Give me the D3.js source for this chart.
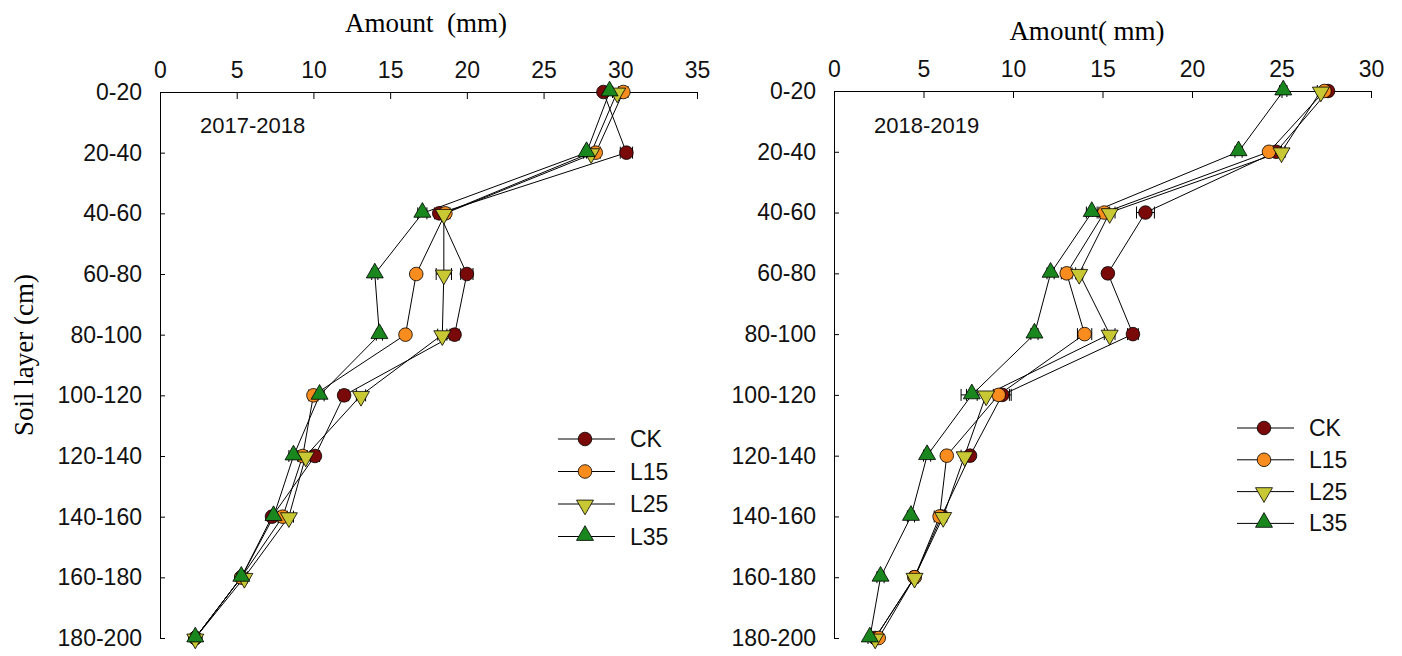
<!DOCTYPE html>
<html>
<head>
<meta charset="utf-8">
<script src="https://cdn.jsdelivr.net/npm/d3@7"></script>
<style>
  body { margin: 0; background: #fff; }
  text { font-family: Arial, "Liberation Sans", sans-serif; }
  .serif { font-family: "Times New Roman", "Liberation Serif", serif; }
</style>
</head>
<body>
<svg id="chart" width="1402" height="656"></svg>
<script>
// soil layers (y categories)
const layers = ["0-20", "20-40", "40-60", "60-80", "80-100", "100-120", "120-140", "140-160", "160-180", "180-200"];
const seriesNames = ["CK", "L15", "L25", "L35"];

// 2017-2018 amounts (mm)
const ck1  = [28.9, 30.4, 18.2, 20.0, 19.2, 12.0, 10.1, 7.3, 5.3, 2.3];
const l15a = [30.2, 28.4, 18.6, 16.7, 16.0, 10.0, 9.3, 8.0, 5.3, 2.3];
const l25a = [29.8, 28.1, 18.5, 18.5, 18.4, 13.1, 9.5, 8.4, 5.5, 2.3];
const l35a = [29.3, 27.8, 17.1, 14.0, 14.3, 10.4, 8.7, 7.4, 5.3, 2.3];
const ck1Err  = [0.2, 0.4, 0.3, 0.4, 0.3, 0.3, 0.3, 0.2, 0.2, 0.1];
const l15aErr = [0.3, 0.3, 0.3, 0.2, 0.2, 0.3, 0.3, 0.3, 0.2, 0.1];
const l25aErr = [0.3, 0.3, 0.3, 0.5, 0.3, 0.3, 0.3, 0.3, 0.2, 0.1];
const l35aErr = [0.2, 0.2, 0.3, 0.2, 0.2, 0.3, 0.3, 0.3, 0.2, 0.1];

// 2018-2019 amounts (mm)
const ck2  = [27.6, 24.7, 17.4, 15.3, 16.7, 9.4, 7.6, 6.0, 4.5, 2.3];
const l15b = [27.4, 24.3, 15.1, 13.0, 14.0, 9.2, 6.3, 5.9, 4.5, 2.5];
const l25b = [27.2, 25.0, 15.4, 13.7, 15.4, 8.5, 7.3, 6.1, 4.5, 2.3];
const l35b = [25.1, 22.6, 14.4, 12.1, 11.2, 7.7, 5.2, 4.3, 2.6, 2.0];
const ck2Err  = [0.2, 0.3, 0.5, 0.2, 0.3, 0.4, 0.2, 0.2, 0.2, 0.1];
const l15bErr = [0.2, 0.2, 0.3, 0.3, 0.4, 0.3, 0.2, 0.3, 0.2, 0.1];
const l25bErr = [0.2, 0.2, 0.3, 0.2, 0.3, 1.4, 0.2, 0.2, 0.2, 0.1];
const l35bErr = [0.2, 0.2, 0.3, 0.2, 0.2, 0.3, 0.2, 0.2, 0.2, 0.1];

const xTicksLeft = [0, 5, 10, 15, 20, 25, 30, 35];
const xTicksRight = [0, 5, 10, 15, 20, 25, 30];

const colors = { CK: "#7a0a0a", L15: "#f98c1e", L25: "#c8c834", L35: "#19861e" };
const shapes = { CK: "circle", L15: "circle", L25: "down", L35: "up" };

const svg = d3.select("#chart");

function marker(g, name, cx, cy) {
  const tri = d3.symbol().type(d3.symbolTriangle).size(125)();
  if (shapes[name] === "down") {
    g.append("path").attr("d", tri)
      .attr("transform", "translate(" + cx + "," + (cy + 1) + ") rotate(180)")
      .attr("fill", colors[name]).attr("stroke", "#000").attr("stroke-width", 0.8);
  } else if (shapes[name] === "up") {
    g.append("path").attr("d", tri)
      .attr("transform", "translate(" + cx + "," + (cy - 1) + ")")
      .attr("fill", colors[name]).attr("stroke", "#000").attr("stroke-width", 0.8);
  } else {
    g.append("circle").attr("cx", cx).attr("cy", cy).attr("r", 6.8)
      .attr("fill", colors[name]).attr("stroke", "#000").attr("stroke-width", 0.8);
  }
}

function panel(opts) {
  const x = d3.scaleLinear().domain([0, opts.xmax]).range(opts.xRange);
  const y = d3.scalePoint().domain(layers).range(opts.yRange);
  const g = svg.append("g");

  // top x axis, ticks pointing into the plot
  const xa = g.append("g")
    .attr("transform", "translate(0," + opts.yRange[0] + ")")
    .call(d3.axisTop(x).tickValues(opts.xTicks).tickSize(-7).tickPadding(14).tickSizeOuter(-7));
  xa.selectAll("text").style("font-size", "23px").attr("fill", "#111");
  xa.selectAll("line, path").attr("stroke", "#000");

  // left y axis
  const ya = g.append("g")
    .attr("transform", "translate(" + opts.xRange[0] + ",0)")
    .call(d3.axisLeft(y).tickSize(-5).tickPadding(18).tickSizeOuter(0));
  ya.selectAll("text").style("font-size", "23px").attr("fill", "#111");
  ya.selectAll("line, path").attr("stroke", "#000");

  // axis title
  g.append("text").attr("class", "serif")
    .attr("x", opts.titleX).attr("y", opts.titleY)
    .attr("text-anchor", "middle")
    .style("font-size", "27px").style("white-space", "pre")
    .text(opts.title);

  g.append("text")
    .attr("x", opts.xRange[0] + 40).attr("y", 133)
    .style("font-size", "22px").attr("fill", "#111")
    .text(opts.period);

  // connecting lines
  opts.series.forEach(s => {
    const line = d3.line().x(d => x(d)).y((d, i) => y(layers[i]));
    g.append("path").datum(s.values).attr("d", line)
      .attr("fill", "none").attr("stroke", "#000").attr("stroke-width", 1);
  });

  // error bars
  opts.series.forEach(s => {
    s.values.forEach((v, i) => {
      const e = s.err[i];
      const yy = y(layers[i]);
      g.append("line").attr("x1", x(v - e)).attr("x2", x(v + e)).attr("y1", yy).attr("y2", yy)
        .attr("stroke", "#000").attr("stroke-width", 1);
      [v - e, v + e].forEach(ev => {
        g.append("line").attr("x1", x(ev)).attr("x2", x(ev)).attr("y1", yy - 6).attr("y2", yy + 6)
          .attr("stroke", "#000").attr("stroke-width", 1);
      });
    });
  });

  // markers
  opts.series.forEach(s => {
    s.values.forEach((v, i) => marker(g, s.name, x(v), y(layers[i])));
  });

  // legend
  seriesNames.forEach((name, i) => {
    const ly = opts.legend.y + i * opts.legend.step;
    g.append("line").attr("x1", opts.legend.x).attr("x2", opts.legend.x + 57)
      .attr("y1", ly).attr("y2", ly).attr("stroke", "#000").attr("stroke-width", 1);
    marker(g, name, opts.legend.x + 27, ly);
    g.append("text").attr("x", opts.legend.x + 72).attr("y", ly + 8)
      .style("font-size", "23px").attr("fill", "#111").text(name);
  });
}

panel({
  xmax: 35, xRange: [160, 697], yRange: [92, 638], xTicks: xTicksLeft,
  title: "Amount  (mm)", titleX: 426, titleY: 32, period: "2017-2018",
  series: [
    { name: "CK", values: ck1, err: ck1Err },
    { name: "L15", values: l15a, err: l15aErr },
    { name: "L25", values: l25a, err: l25aErr },
    { name: "L35", values: l35a, err: l35aErr }
  ],
  legend: { x: 558, y: 439, step: 32.5 }
});

panel({
  xmax: 30, xRange: [834, 1371], yRange: [91, 638], xTicks: xTicksRight,
  title: "Amount( mm)", titleX: 1087, titleY: 40, period: "2018-2019",
  series: [
    { name: "CK", values: ck2, err: ck2Err },
    { name: "L15", values: l15b, err: l15bErr },
    { name: "L25", values: l25b, err: l25bErr },
    { name: "L35", values: l35b, err: l35bErr }
  ],
  legend: { x: 1237, y: 428, step: 31.8 }
});

// shared y title
svg.append("text").attr("class", "serif")
  .attr("transform", "translate(33,355) rotate(-90)")
  .attr("text-anchor", "middle")
  .style("font-size", "27px")
  .text("Soil layer (cm)");
</script>
</body>
</html>
